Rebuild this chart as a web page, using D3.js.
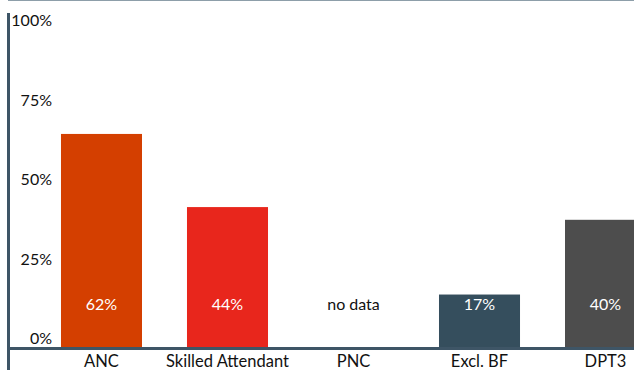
<!DOCTYPE html>
<html>
<head>
<meta charset="utf-8">
<script src="https://cdn.jsdelivr.net/npm/d3@7"></script>
<style>
  body { margin: 0; background: #fff; }
  svg { display: block; font-family: Lato, "Open Sans", sans-serif; }
</style>
</head>
<body>
<div id="chart"></div>
<script>
// chart data
const categories = ["ANC", "Skilled Attendant", "PNC", "Excl. BF", "DPT3"];
const barValues = [67, 44, null, 16.5, 40];
const barLabels = ["62%", "44%", "no data", "17%", "40%"];
const barColors = ["#d43f00", "#e8261c", "#ffffff", "#354e5d", "#4d4d4d"];
const yTicks = [0, 25, 50, 75, 100];

const width = 634, height = 370;

const svg = d3.select("#chart")
    .append("svg")
    .attr("width", width)
    .attr("height", height);

const x = d3.scaleBand()
    .domain(categories)
    .range([38.3, 668.7])
    .paddingInner(0.357)
    .paddingOuter(0.18);

const y = d3.scaleLinear()
    .domain([0, 100])
    .range([347, 29]);

// top rule
svg.append("line")
    .attr("x1", 8).attr("x2", width)
    .attr("y1", 0.5).attr("y2", 0.5)
    .attr("stroke", "#8d9ea9")
    .attr("stroke-width", 1);

// bars
svg.selectAll(".bar")
    .data(categories.map((c, i) => ({ c, v: barValues[i], color: barColors[i] })).filter(d => d.v != null))
    .join("rect")
    .attr("class", "bar")
    .attr("x", d => x(d.c))
    .attr("width", x.bandwidth())
    .attr("y", d => y(d.v))
    .attr("height", d => y(0) - y(d.v))
    .attr("fill", d => d.color);

// value labels inside bars
svg.selectAll(".vlabel")
    .data(categories)
    .join("text")
    .attr("class", "vlabel")
    .attr("x", d => x(d) + x.bandwidth() / 2)
    .attr("y", y(0) - 37)
    .attr("text-anchor", "middle")
    .attr("font-size", 16)
    .attr("fill", (d, i) => barValues[i] == null ? "#111" : "#fff")
    .text((d, i) => barLabels[i]);

// y tick labels
svg.selectAll(".ytick")
    .data(yTicks)
    .join("text")
    .attr("class", "ytick")
    .attr("x", 52)
    .attr("y", d => y(d) - 3)
    .attr("text-anchor", "end")
    .attr("font-size", 16)
    .attr("fill", "#111")
    .text(d => d + "%");

// category labels
svg.selectAll(".xlabel")
    .data(categories)
    .join("text")
    .attr("class", "xlabel")
    .attr("x", d => x(d) + x.bandwidth() / 2)
    .attr("y", 367)
    .attr("text-anchor", "middle")
    .attr("font-size", 16.5)
    .attr("fill", "#111")
    .text(d => d);

// axes
svg.append("line")
    .attr("x1", 7).attr("x2", width)
    .attr("y1", y(0) + 1.5).attr("y2", y(0) + 1.5)
    .attr("stroke", "#3e5566")
    .attr("stroke-width", 3);

svg.append("line")
    .attr("x1", 8.5).attr("x2", 8.5)
    .attr("y1", 13).attr("y2", height)
    .attr("stroke", "#3e5566")
    .attr("stroke-width", 3);
</script>
</body>
</html>
